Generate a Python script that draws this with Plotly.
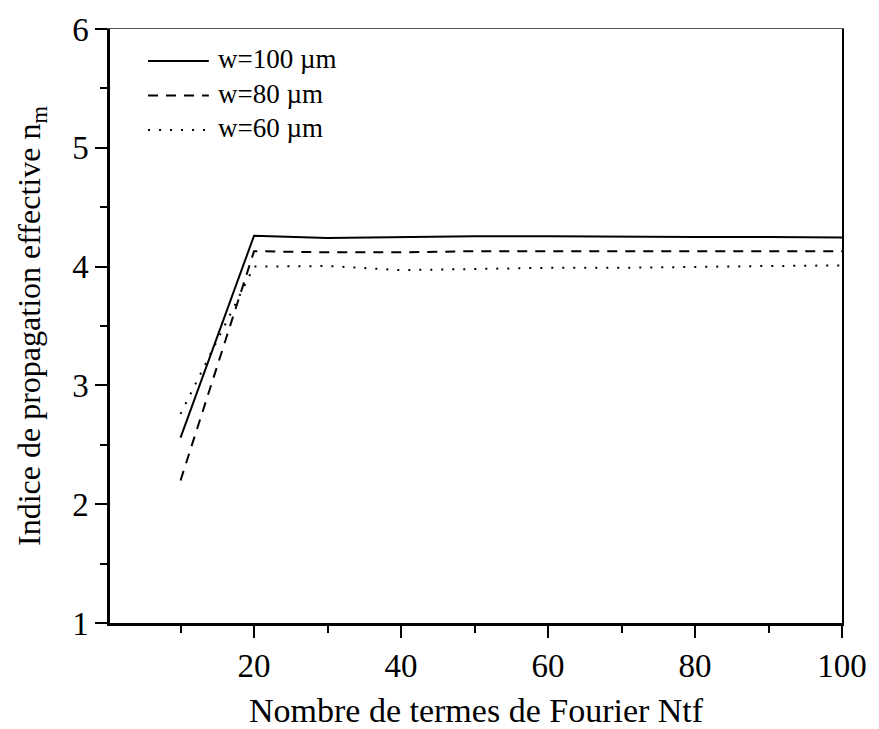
import plotly.graph_objects as go

# Nombre de termes de Fourier
ntf = [10, 20, 30, 40, 50, 60, 70, 80, 90, 100]

# Indice de propagation effective pour chaque largeur
n_w100 = [2.56, 4.26, 4.24, 4.25, 4.255, 4.255, 4.25, 4.25, 4.25, 4.245]
n_w80 = [2.20, 4.13, 4.12, 4.12, 4.13, 4.13, 4.13, 4.13, 4.13, 4.13]
n_w60 = [2.76, 4.00, 4.005, 3.97, 3.98, 3.99, 3.99, 4.00, 4.005, 4.01]

labels = ["w=100 \u00b5m", "w=80 \u00b5m", "w=60 \u00b5m"]
dashes = ["solid", "10px,8px", "2px,9px"]

FONT = "Liberation Serif, Times New Roman, serif"

fig = go.Figure()
for y, name, dash in zip([n_w100, n_w80, n_w60], labels, dashes):
    fig.add_trace(go.Scatter(
        x=ntf, y=y, mode="lines", name=name,
        line=dict(color="black", width=2, dash=dash),
        showlegend=False,
    ))

# Legend drawn as sample lines with text labels
leg_y = [0.946, 0.888, 0.830]
for yy, name, dash in zip(leg_y, labels, dashes):
    fig.add_shape(type="line", xref="paper", yref="paper",
                  x0=0.052, x1=0.135, y0=yy, y1=yy,
                  line=dict(color="black", width=2, dash=dash))
    fig.add_annotation(xref="paper", yref="paper", x=0.145, y=yy + 0.003,
                       text=name, showarrow=False, xanchor="left",
                       yanchor="middle",
                       font=dict(family=FONT, size=27, color="black"))

# Axis titles
fig.add_annotation(xref="paper", yref="paper", x=0.5, y=-0.148,
                   text="Nombre de termes de Fourier Ntf", showarrow=False,
                   xanchor="center", yanchor="middle",
                   font=dict(family=FONT, size=34, color="black"))
fig.add_annotation(xref="paper", yref="paper", x=-0.108, y=0.5,
                   text="Indice de propagation effective n<sub>m</sub>",
                   showarrow=False, textangle=-90,
                   xanchor="center", yanchor="middle",
                   font=dict(family=FONT, size=32, color="black"))

fig.update_layout(
    width=879, height=729,
    margin=dict(l=110, r=27, t=21, b=106),
    plot_bgcolor="white", paper_bgcolor="white",
    font=dict(family=FONT, color="black"),
    xaxis=dict(
        range=[0.4, 100], tick0=0, dtick=20,
        ticks="outside", ticklen=12, tickwidth=2, tickcolor="black",
        minor=dict(dtick=10, tick0=0, ticks="outside", ticklen=7,
                   tickwidth=2, tickcolor="black"),
        showline=True, linewidth=2.5, linecolor="black",
        showgrid=False, zeroline=False,
        tickfont=dict(family=FONT, size=33, color="black"),
    ),
    yaxis=dict(
        range=[1, 6], tick0=1, dtick=1,
        ticks="outside", ticklen=12, tickwidth=2, tickcolor="black",
        minor=dict(dtick=0.5, ticks="outside", ticklen=7,
                   tickwidth=2, tickcolor="black"),
        showline=True, linewidth=2.5, linecolor="black",
        showgrid=False, zeroline=False,
        tickfont=dict(family=FONT, size=33, color="black"),
    ),
    xaxis2=dict(overlaying="x", side="top", range=[0.4, 100],
                showline=True, linewidth=1.2, linecolor="#555555",
                showticklabels=False, ticks="", showgrid=False,
                zeroline=False),
    yaxis2=dict(overlaying="y", side="right", range=[1, 6],
                showline=True, linewidth=1.5, linecolor="black",
                showticklabels=False, ticks="", showgrid=False,
                zeroline=False),
)

# empty trace on the overlay axes so the top and right frame lines are drawn
fig.add_trace(go.Scatter(x=[None], y=[None], xaxis="x2", yaxis="y2",
                         showlegend=False, hoverinfo="skip"))

fig.write_html("out.html")
